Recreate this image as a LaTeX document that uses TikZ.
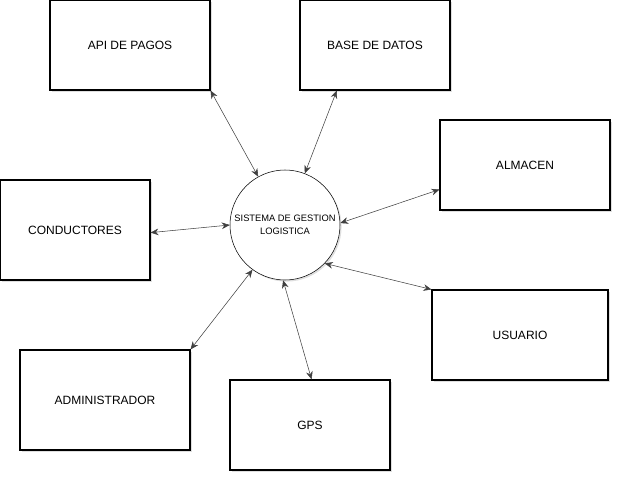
\documentclass[tikz,border=0pt]{standalone}
\usepackage{fontspec}
\setmainfont{Liberation Sans}
\usetikzlibrary{arrows.meta,shadows}

\begin{document}
\begin{tikzpicture}[
    x=0.75pt, y=-0.75pt,
    every node/.style={font=\fontsize{9}{11}\selectfont},
    entity/.style={draw, thick, rectangle, fill=white, minimum height=67.5pt,
        drop shadow={shadow xshift=1.2pt, shadow yshift=-1.2pt, opacity=0.25}},
    core/.style={draw, circle, fill=white, minimum size=82.5pt, inner sep=0pt,
        align=center, font=\fontsize{7}{9.75}\selectfont,
        drop shadow={shadow xshift=1.2pt, shadow yshift=-1.2pt, opacity=0.25}},
    link/.style={draw=black!75, {Stealth[length=6pt,width=5pt]}-{Stealth[length=6pt,width=5pt]}}
]
    \useasboundingbox (0,0) rectangle (622,482);

    % Central system
    \node[core] (sgl) at (285,225) {SISTEMA DE GESTION\\LOGISTICA};

    % External entities
    \node[entity, minimum width=120pt] (api) at (130,45) {API DE PAGOS};
    \node[entity, minimum width=112.5pt] (base) at (375,45) {BASE DE DATOS};
    \node[entity, minimum width=127.5pt] (almacen) at (525,165) {ALMACEN};
    \node[entity, minimum width=112.5pt, minimum height=75pt] (conductores) at (75,230) {CONDUCTORES};
    \node[entity, minimum width=127.5pt, minimum height=75pt] (admin) at (105,400) {ADMINISTRADOR};
    \node[entity, minimum width=120pt] (gps) at (310,425) {GPS};
    \node[entity, minimum width=132pt] (usuario) at (520,335) {USUARIO};

    % Data flows
    \draw[link] (api.south east) -- (sgl.119);
    \draw[link] (base.230) -- (sgl.69);
    \draw[link] (almacen.196) -- (sgl.2);
    \draw[link] (conductores.-2) -- (sgl.180);
    \draw[link] (admin.north east) -- (sgl.234);
    \draw[link] (gps.88) -- (sgl.268);
    \draw[link] (usuario.north west) -- (sgl.316);
\end{tikzpicture}
\end{document}
